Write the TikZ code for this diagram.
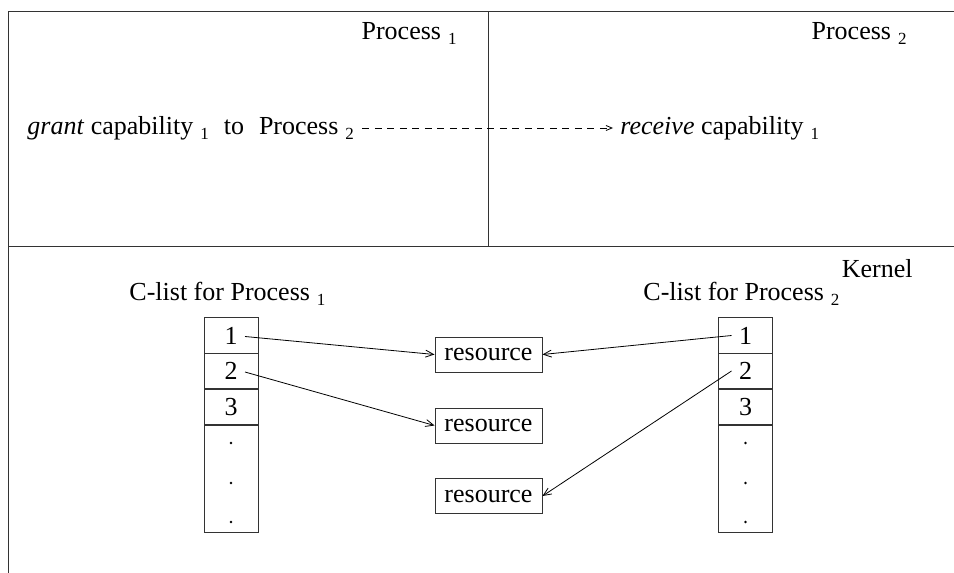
\documentclass[tikz,border=0pt]{standalone}
\usepackage{fontspec}
\setmainfont{Liberation Serif}
\usetikzlibrary{arrows.meta}
\newcommand\sbs[1]{\hspace{7pt}\raisebox{-5pt}{\fontsize{17}{17}\selectfont #1}}
\begin{document}
\begin{tikzpicture}[x=1pt,y=-1pt,
  font=\fontsize{26}{31}\selectfont,
  line width=0.9pt,
  frame/.style={line width=1pt, draw=black!80},
  cell/.style={draw=black!80, line width=1pt, minimum width=54pt, minimum height=35.5pt, inner sep=0pt},
  res/.style={draw=black!80, line width=1pt, minimum width=107pt, minimum height=35pt, inner sep=0pt},
  lbl/.style={inner sep=0pt},
  ptr/.style={-{Straight Barb[length=8pt,width=7pt]}, line width=0.8pt},
  dptr/.style={-{Straight Barb[length=6pt,width=5pt]}, line width=0.8pt, dash pattern=on 7pt off 5.5pt}]
\useasboundingbox (0,0) rectangle (954,573);
% frame
\coordinate (tl) at (8,11);
\coordinate (tr) at (954,11);
\coordinate (bl) at (8,573);
\coordinate (ml) at (8,246);
\coordinate (mr) at (954,246);
\coordinate (dt) at (488,11);
\coordinate (db) at (488,246);
\draw[frame] (tr) -- (tl) -- (bl);
\draw[frame] (ml) -- (mr);
\draw[frame] (dt) -- (db);
% user-level texts
\node[lbl, anchor=base east] (p1) at (457,39) {Process\sbs{1}};
\node[lbl, anchor=base east] (p2) at (907,39) {Process\sbs{2}};
\node[lbl, anchor=base west] (grant) at (27,134) {\textit{grant} capability\sbs{1}\hspace{15pt}to\hspace{15pt}Process\sbs{2}};
\node[lbl, anchor=base west] (recv) at (620,134) {\textit{receive} capability\sbs{1}};
\draw[dptr] ([xshift=8pt,yshift=6pt]grant.base east) -- ([xshift=-7pt,yshift=6pt]recv.base west);
% kernel
\node[lbl, anchor=base east] (kern) at (913,277) {Kernel};
\node[lbl, anchor=base west] (c1) at (129,300) {C-list for Process\sbs{1}};
\node[lbl, anchor=base west] (c2) at (643,300) {C-list for Process\sbs{2}};
% left c-list
\node[cell] (L1) at (231,335.5) {1};
\node[cell] (L2) at (231,371) {2};
\node[cell] (L3) at (231,407) {3};
\node[cell, minimum height=107pt] (L4) at (231,478.5) {};
% right c-list
\node[cell] (K1) at (745.5,335.5) {1};
\node[cell] (K2) at (745.5,371) {2};
\node[cell] (K3) at (745.5,407) {3};
\node[cell, minimum height=107pt] (K4) at (745.5,478.5) {};
% dots
\foreach \yy in {443,483,522} {
  \fill (231,\yy) circle (1.4pt);
  \fill (745.5,\yy) circle (1.4pt);
}
% resources
\node[res] (R1) at (488.5,354.5) {resource};
\node[res] (R2) at (488.5,425.5) {resource};
\node[res] (R3) at (488.5,496) {resource};
% pointers
\draw[ptr] ([xshift=14pt,yshift=-1pt]L1.center) -- (R1.west);
\draw[ptr] ([xshift=14pt,yshift=-1pt]L2.center) -- (R2.west);
\draw[ptr] ([xshift=-14pt]K1.center) -- (R1.east);
\draw[ptr] ([xshift=-14pt]K2.center) -- (R3.east);
\end{tikzpicture}
\end{document}
